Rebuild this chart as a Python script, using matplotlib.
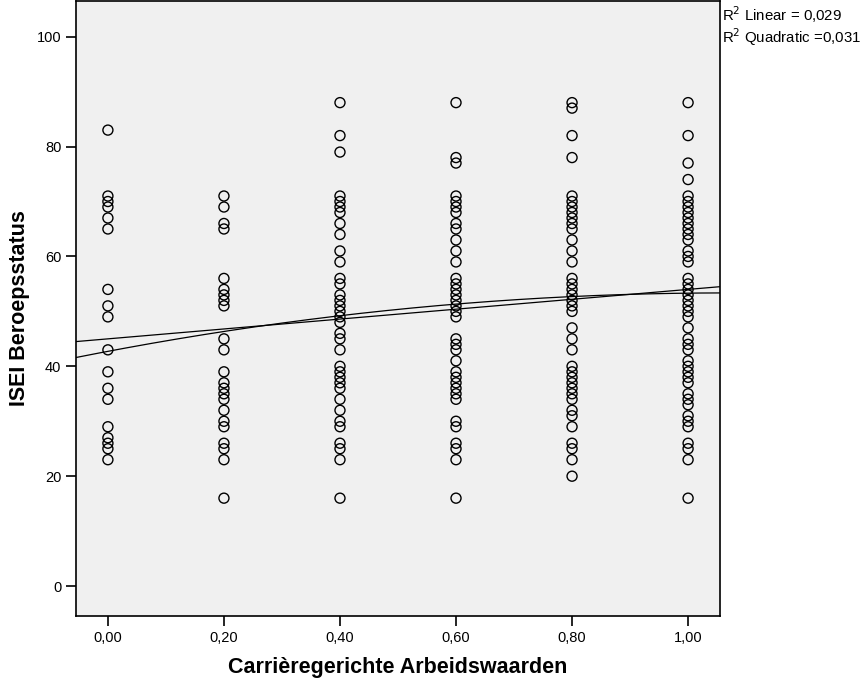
import numpy as np
import matplotlib
matplotlib.use("Agg")
import matplotlib.pyplot as plt
from matplotlib.ticker import FuncFormatter

plt.rcParams['font.family'] = ['Liberation Sans', 'DejaVu Sans']

# ISEI scores per level of career-oriented work values
x_levels = [0.0, 0.2, 0.4, 0.6, 0.8, 1.0]
isei_00 = [83, 71, 70, 69, 67, 65, 54, 51, 49, 43, 39, 36, 34, 29, 27, 26, 25, 23]
isei_02 = [71, 69, 66, 65, 56, 54, 53, 52, 51, 45, 43, 39, 37, 36, 35, 34, 32, 30,
           29, 26, 25, 23, 16]
isei_04 = [88, 82, 79, 71, 70, 69, 68, 66, 64, 61, 59, 56, 55, 53, 52, 51, 50, 49,
           48, 46, 45, 43, 40, 39, 38, 37, 36, 34, 32, 30, 29, 26, 25, 23, 16]
isei_06 = [88, 78, 77, 71, 70, 69, 68, 66, 65, 63, 61, 59, 56, 55, 54, 53, 52, 51,
           50, 49, 45, 44, 43, 41, 39, 38, 37, 36, 35, 34, 30, 29, 26, 25, 23, 16]
isei_08 = [88, 87, 82, 78, 71, 70, 69, 68, 67, 66, 65, 63, 61, 59, 56, 55, 54, 53,
           52, 51, 50, 47, 45, 43, 40, 39, 38, 37, 36, 35, 34, 32, 31, 29, 26, 25,
           23, 20]
isei_10 = [88, 82, 77, 74, 71, 70, 69, 68, 67, 66, 65, 64, 63, 61, 60, 59, 56, 55,
           54, 53, 52, 51, 50, 49, 47, 45, 44, 43, 41, 40, 39, 38, 37, 35, 34, 33,
           31, 30, 29, 26, 25, 23, 16]
columns = [isei_00, isei_02, isei_04, isei_06, isei_08, isei_10]

# fitted curves (constant, x, x^2)
linear_coef = [45.0, 9.0, 0.0]
quad_coef = [42.73, 19.94, -9.35]
r2_linear = "0,029"
r2_quad = "0,031"

fig = plt.figure(figsize=(8.64, 6.83), dpi=100)
ax = fig.add_axes([76 / 864, 67 / 683, 644 / 864, 615 / 683])
ax.set_facecolor('#f0f0f0')

for xv, ys in zip(x_levels, columns):
    ax.scatter([xv] * len(ys), ys, s=52, facecolors='none', edgecolors='black',
               linewidths=1.0, zorder=3)

xs = np.linspace(-0.06, 1.06, 200)
for c in (linear_coef, quad_coef):
    ax.plot(xs, c[0] + c[1] * xs + c[2] * xs ** 2, color='black', lw=0.9, zorder=4)

ax.set_xlim(-0.055, 1.055)
ax.set_ylim(-5.45, 106.5)
ax.set_xticks(x_levels)
ax.set_yticks([0, 20, 40, 60, 80, 100])
ax.xaxis.set_major_formatter(FuncFormatter(lambda v, p: f"{v:.2f}".replace('.', ',')))
ax.tick_params(axis='both', direction='out', length=7, width=1.2, labelsize=10.5,
               colors='black')
for s in ax.spines.values():
    s.set_linewidth(1.2)

ax.set_xlabel('Carrièregerichte Arbeidswaarden', fontsize=15.5, fontweight='bold',
              labelpad=9)
ax.set_ylabel('ISEI Beroepsstatus', fontsize=15.5, fontweight='bold', labelpad=5)

fig.text(722 / 864, 1 - 15 / 683, r'R$^2$ Linear = ' + r2_linear, fontsize=10.8,
         va='center', ha='left')
fig.text(722 / 864, 1 - 37 / 683, r'R$^2$ Quadratic =' + r2_quad, fontsize=10.8,
         va='center', ha='left')

fig.savefig('out.png', dpi=100, facecolor='white')
